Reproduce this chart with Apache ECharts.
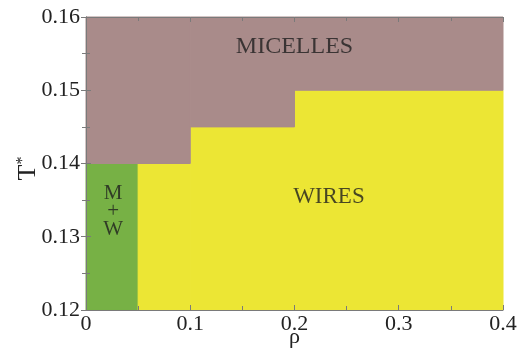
<!DOCTYPE html>
<html>
<head>
<meta charset="utf-8">
<script src="https://cdn.jsdelivr.net/npm/echarts@6/dist/echarts.min.js"></script>
<style>
  html, body { margin: 0; padding: 0; background: #fff; }
  #chart_container { width: 518px; height: 350px; }
</style>
</head>
<body>
<div id="chart_container"></div>
<script>
"use strict";

// phase regions: [rhoFrom, rhoTo, tFrom, tTo, phase]
const phases = ['M+W', 'WIRES', 'MICELLES'];
const phaseColors = ['#77b145', '#ece634', '#a98b8a'];
const regions = [
    [0.00, 0.05, 0.12, 0.14, 0],
    [0.05, 0.10, 0.12, 0.14, 1],
    [0.10, 0.20, 0.12, 0.145, 1],
    [0.20, 0.40, 0.12, 0.15, 1],
    [0.00, 0.10, 0.14, 0.16, 2],
    [0.10, 0.20, 0.145, 0.16, 2],
    [0.20, 0.40, 0.15, 0.16, 2]
];
// where the phase names sit (rho, T*)
const labelSpots = [
    [0.026, 0.1335, 'M\n+\nW'],
    [0.233, 0.1355, 'WIRES'],
    [0.2, 0.1559, 'MICELLES']
];
const labelSizes = [21, 23, 24];

const serif = 'Liberation Serif';
const axisGray = '#7a7a7a';
const ink = '#222';

let pageLoaded = () => {
    let chartDom = document.getElementById('chart_container');
    let myChart = echarts.init(chartDom, null, { renderer: 'canvas' });

    const tickCommon = { inside: true, length: 5, lineStyle: { color: axisGray } };
    const minorCommon = { show: true, splitNumber: 2, length: 4, lineStyle: { color: axisGray } };

    let opt = {
        animation: false,
        grid: { left: 86, right: 15, top: 17, bottom: 40, containLabel: false, outerBoundsMode: 'none' },
        xAxis: [{
            type: 'value', min: 0, max: 0.4, interval: 0.1, z: 5,
            name: 'ρ', nameLocation: 'middle', nameGap: 16, nameMoveOverlap: false,
            nameTextStyle: { fontFamily: serif, fontSize: 22, color: ink },
            axisLine: { lineStyle: { color: axisGray } },
            axisTick: tickCommon, minorTick: minorCommon,
            splitLine: { show: false },
            axisLabel: { fontFamily: serif, fontSize: 22, color: ink, margin: 3,
                formatter: v => v === 0 ? '0' : v.toFixed(1) }
        }, {
            type: 'value', min: 0, max: 0.4, interval: 0.1, z: 5, position: 'top',
            axisLine: { lineStyle: { color: axisGray } },
            axisTick: tickCommon, minorTick: minorCommon,
            splitLine: { show: false }, axisLabel: { show: false }
        }],
        yAxis: [{
            type: 'value', min: 0.12, max: 0.16, interval: 0.01, z: 5,
            name: '{t|T}{s|*}', nameLocation: 'middle', nameGap: 45, nameRotate: 90,
            nameMoveOverlap: false,
            nameTextStyle: {
                padding: [0, 10, 0, 0],
                rich: {
                    t: { fontFamily: serif, fontSize: 26, color: ink },
                    s: { fontFamily: serif, fontSize: 16, color: ink, verticalAlign: 'top' }
                }
            },
            axisLine: { lineStyle: { color: axisGray } },
            axisTick: tickCommon, minorTick: minorCommon,
            splitLine: { show: false },
            axisLabel: { fontFamily: serif, fontSize: 22, color: ink, margin: 6,
                formatter: v => v.toFixed(2) }
        }, {
            type: 'value', min: 0.12, max: 0.16, interval: 0.01, z: 5, position: 'right',
            axisLine: { lineStyle: { color: axisGray } },
            axisTick: tickCommon, minorTick: minorCommon,
            splitLine: { show: false }, axisLabel: { show: false }
        }],
        series: [{
            type: 'custom',
            xAxisIndex: 0, yAxisIndex: 0,
            data: regions,
            renderItem: (params, api) => {
                let p0 = api.coord([api.value(0), api.value(3)]);
                let p1 = api.coord([api.value(1), api.value(2)]);
                let c = phaseColors[api.value(4)];
                return {
                    type: 'rect',
                    shape: { x: p0[0], y: p0[1], width: p1[0] - p0[0], height: p1[1] - p0[1] },
                    style: { fill: c, stroke: c, lineWidth: 1 }
                };
            },
            silent: true
        }, {
            type: 'scatter',
            xAxisIndex: 0, yAxisIndex: 0,
            symbolSize: 0,
            z: 10,
            data: labelSpots.map((d, i) => ({
                value: [d[0], d[1]], name: d[2],
                label: { fontSize: labelSizes[i], lineHeight: i === 0 ? 18 : labelSizes[i] }
            })),
            label: {
                show: true, position: 'inside',
                formatter: p => p.name,
                fontFamily: serif, color: '#1e1e1e'
            },
            silent: true
        }]
    };

    myChart.setOption(opt);
    console.log(`chart ready`);
};

window.addEventListener('load', pageLoaded, false);
</script>
</body>
</html>
